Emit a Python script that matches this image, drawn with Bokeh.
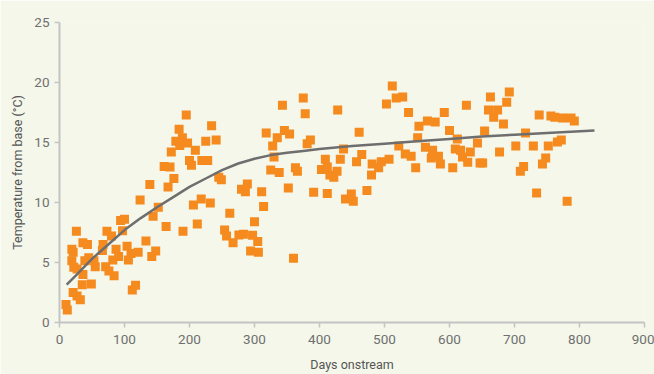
from bokeh.plotting import figure
from bokeh.embed import file_html
from bokeh.resources import INLINE
from bokeh.models import FixedTicker, Range1d

days = [10, 12, 19, 21, 19, 22, 21, 27, 32, 26, 27, 36, 35, 36, 43, 39, 45, 53, 49, 55,
        66, 67, 73, 80, 71, 76, 84, 82, 87, 91, 94, 100, 97, 104, 106, 110, 112, 117, 121, 124,
        133, 139, 142, 144, 148, 152,
        164, 167, 161, 170, 176, 172, 179, 184, 185, 189, 190, 195, 197, 200, 203, 209, 206, 212,
        218, 219, 228, 225, 232, 234, 241, 245, 249,
        254, 257, 262, 267, 276, 283, 280, 286, 289, 294, 297, 300, 305, 306, 311, 314, 318, 325,
        328, 330, 335, 338, 343, 346, 352, 354, 360, 363, 366, 375, 378, 381, 386, 391, 403, 409,
        412, 412, 416, 422, 427, 428, 432, 437, 440, 449, 452, 457, 461, 465, 473, 480, 481, 491,
        495, 503, 507, 512, 518, 522, 528, 532, 537, 541, 548, 551, 553, 563, 566, 572, 574, 578,
        583, 586, 592, 600, 605, 609, 612, 617, 620, 626, 628, 632, 643, 647, 651, 654, 660, 663,
        668, 674, 677, 683, 688, 692, 702, 709, 714, 717, 729, 734, 738, 743, 748, 752, 756, 762,
        766, 772, 774, 781, 787, 792]
temps = [1.5, 1.05, 6.1, 5.85, 5.15, 4.6, 2.5, 2.2, 1.9, 7.6, 4.45, 4.0, 3.15, 6.65, 6.5, 5.15, 5.4, 5.15, 3.2, 4.65,
         6.0, 6.5, 7.6, 7.2, 4.65, 4.3, 3.9, 5.2, 6.1, 5.5, 8.5, 8.6, 7.65, 6.35, 5.2, 5.75, 2.7, 3.1, 5.85, 10.2,
         6.8, 11.5, 5.5, 8.85, 5.95, 9.6,
         8.0, 11.3, 13.0, 12.95, 12.0, 14.2, 15.1, 16.1, 14.75, 15.4, 7.6, 17.3, 14.95, 13.5, 13.1, 14.35, 9.8, 8.2,
         10.3, 13.5, 13.5, 15.1, 9.95, 16.4, 15.2, 12.1, 11.9,
         7.7, 7.2, 9.1, 6.65, 7.3, 7.35, 11.1, 10.9, 11.55, 5.95, 7.27, 8.4, 6.74, 5.85, 10.9, 9.67, 15.8, 12.7,
         14.7, 13.8, 15.4, 12.5, 18.1, 16.0, 11.2, 15.7, 5.35, 12.9, 12.6, 18.7, 17.4, 14.9, 15.2, 10.85, 12.75, 13.6,
         12.95, 10.75, 12.3, 12.1, 12.6, 17.7, 13.6, 14.45, 10.3, 10.7, 10.1, 13.4, 15.85, 14.0, 11.0, 12.3, 13.2, 12.9,
         13.4, 18.2, 13.6, 19.7, 18.7, 14.7, 18.8, 14.05, 17.5, 13.85, 12.9, 15.4, 16.35, 14.6, 16.8, 13.7, 14.35, 16.7,
         13.85, 13.2, 17.5, 16.0, 12.9, 14.45, 15.3, 14.35, 13.8, 18.1, 13.35, 14.2, 14.95, 13.3, 13.3, 15.95, 17.7, 18.8,
         17.1, 17.7, 14.2, 16.55, 18.35, 19.2, 14.7, 12.6, 13.0, 15.8, 14.7, 10.8, 17.3, 13.2, 13.7, 14.7, 17.2, 17.1,
         15.05, 15.2, 17.05, 10.1, 17.05, 16.8]

trend_days = [11, 25, 50, 75, 100, 125, 150, 175, 200, 225, 250, 275, 300, 325, 350, 375, 400, 450,
              500, 550, 600, 650, 700, 750, 823]
trend_temps = [3.15, 3.9, 5.3, 6.5, 7.7, 8.7, 9.6, 10.45, 11.3, 12.0, 12.7, 13.25, 13.65, 13.95, 14.15, 14.3,
               14.45, 14.7, 14.9, 15.1, 15.3, 15.5, 15.65, 15.8, 16.0]

x_ticks = [0, 100, 200, 300, 400, 500, 600, 700, 800, 900]
y_ticks = [0, 5, 10, 15, 20, 25]

BG = "#f4f7ea"
p = figure(width=654, height=374, output_backend="svg", toolbar_location=None,
           x_range=Range1d(0, 900), y_range=Range1d(0, 25),
           background_fill_color=BG, border_fill_color=BG,
           min_border_left=59, min_border_right=10, min_border_top=22, min_border_bottom=52)
p.outline_line_color = None
p.grid.grid_line_color = None

p.scatter(days, temps, marker="square", size=9, fill_color="#f58a1f", line_color=None)
p.line(trend_days, trend_temps, line_color="#6e6e6e", line_width=2.5)

for ax in (p.xaxis[0], p.yaxis[0]):
    ax.axis_line_color = "#c4c4c4"
    ax.axis_line_width = 2
    ax.major_tick_line_color = "#c4c4c4"
    ax.major_tick_line_width = 1.5
    ax.major_tick_out = 5
    ax.major_tick_in = 0
    ax.minor_tick_line_color = None
    ax.major_label_text_color = "#707070"
    ax.major_label_text_font = "Roboto"
    ax.major_label_text_font_size = "13.5px"
    ax.axis_label_text_color = "#555555"
    ax.axis_label_text_font = "Roboto"
    ax.axis_label_text_font_size = "12.5px"
    ax.axis_label_text_font_style = "normal"

p.xaxis.ticker = FixedTicker(ticks=x_ticks)
p.yaxis.ticker = FixedTicker(ticks=y_ticks)
p.xaxis.axis_label = "Days onstream"
p.yaxis.axis_label = "Temperature from base (°C)"
p.xaxis.major_label_standoff = 7
p.yaxis.major_label_standoff = 5
p.xaxis.axis_label_standoff = 10
p.yaxis.axis_label_standoff = 6

open("out.html", "w").write(file_html(p, INLINE))
